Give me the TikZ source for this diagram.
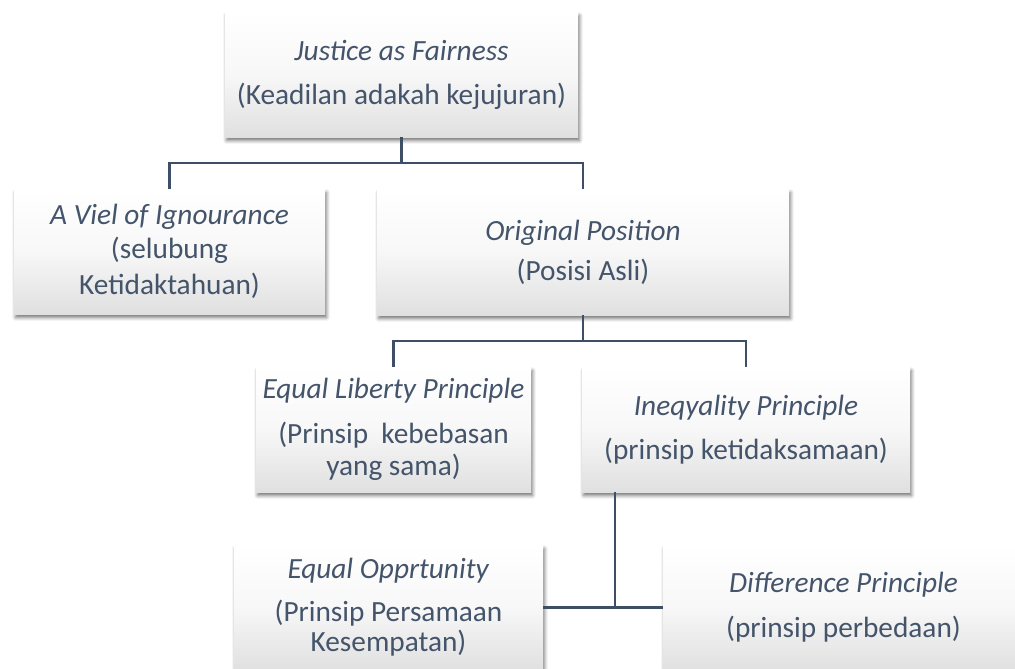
\documentclass[tikz,border=0pt]{standalone}
\usepackage{fontspec}
\setmainfont{Carlito}
\usetikzlibrary{shadows.blur}
\definecolor{txt}{HTML}{44546A}
\definecolor{lin}{HTML}{3E4E64}
\definecolor{boxbot}{HTML}{E0E0E0}
\begin{document}
\begin{tikzpicture}[x=1pt,y=-1pt,
  box/.style={rectangle, draw=none,
    top color=white, bottom color=boxbot, middle color=white!97!black,
    text=txt, align=center, inner sep=0pt,
    font=\fontsize{29.3}{32}\selectfont,
    blur shadow={shadow xshift=1.5pt, shadow yshift=-3.5pt, shadow blur radius=3.5pt, shadow opacity=55}},
  conn/.style={draw=lin, line width=2.5pt}]
\useasboundingbox (0,0) rectangle (1015,669);
\clip (0,0) rectangle (1015,669);
\node[box, minimum width=353pt, minimum height=125pt] (top) at (401.5,74.5)
  {\textit{Justice as Fairness}\\[12pt](Keadilan adakah kejujuran)};
\node[box, minimum width=311pt, minimum height=125pt] (viel) at (169.5,251.5)
  {\textit{A Viel of Ignourance}\\[2pt](selubung\\[4pt]Ketidaktahuan)};
\node[box, minimum width=412pt, minimum height=126pt] (orig) at (583,252)
  {\textit{Original Position}\\[8pt](Posisi Asli)};
\node[box, minimum width=275pt, minimum height=125pt] (elp) at (393.5,429.5)
  {\textit{Equal Liberty Principle}\\[13pt](Prinsip~ kebebasan\\yang sama)};
\node[box, minimum width=328pt, minimum height=125pt] (ineq) at (746,429.5)
  {\textit{Ineqyality Principle}\\[12pt](prinsip ketidaksamaan)};
\node[box, minimum width=309pt, minimum height=125pt] (eqop) at (388.5,607.5)
  {\textit{Equal Opprtunity}\\[11pt](Prinsip Persamaan\\[-2pt]Kesempatan)};
\node[box, minimum width=361pt, minimum height=125pt] (diff) at (843.5,607.5)
  {\textit{Difference Principle}\\[13pt](prinsip perbedaan)};
\draw[conn] (top.south) -- ++(0,26) -| (viel.north);
\draw[conn] (top.south) -- ++(0,26) -| (orig.north);
\draw[conn] (orig.south) -- ++(0,26) -| (elp.north);
\draw[conn] (orig.south) -- ++(0,26) -| (ineq.north);
\coordinate (j) at (615,607.5);
\draw[conn] (eqop.east) -- (diff.west);
\draw[conn] (ineq.south -| j) -- (j);
\end{tikzpicture}
\end{document}
